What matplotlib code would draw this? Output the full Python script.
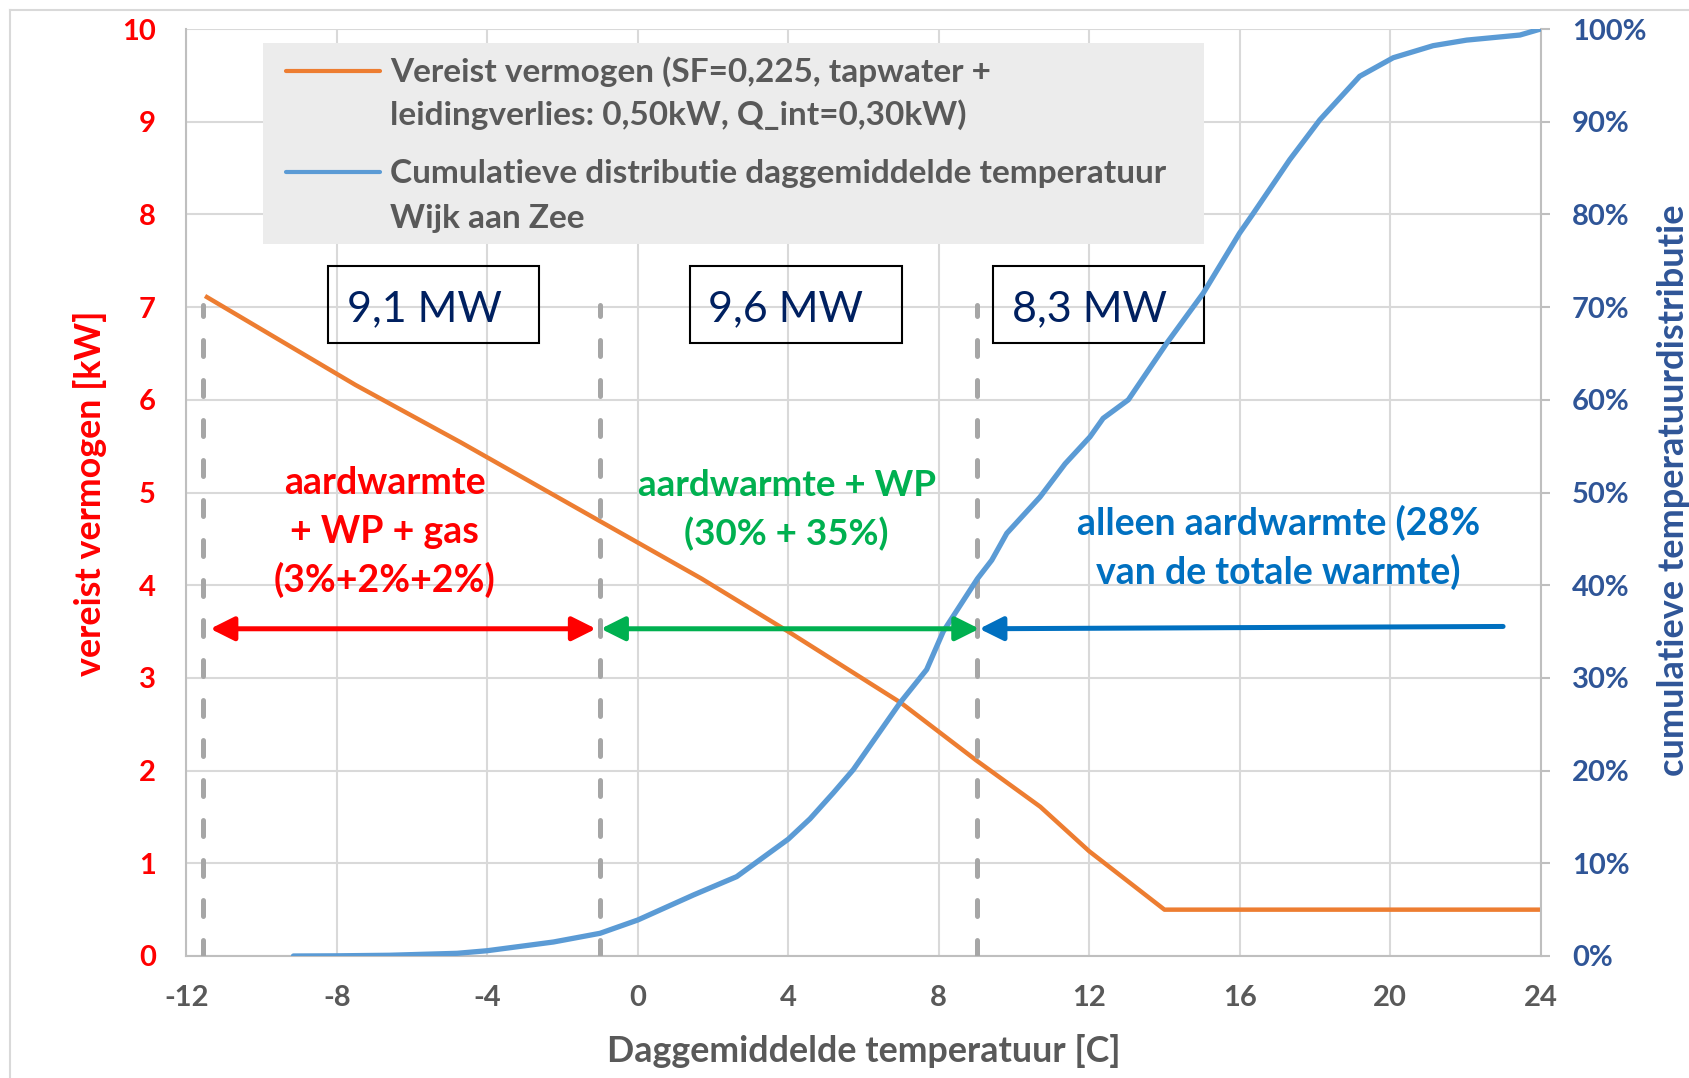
import matplotlib.pyplot as plt
from matplotlib.patches import Rectangle
from matplotlib.lines import Line2D

plt.rcParams['font.family'] = ['Lato', 'DejaVu Sans']
plt.rcParams['font.weight'] = 'bold'
plt.rcParams['lines.scale_dashes'] = False

# Required power (kW) versus daily mean temperature
temp_power = [-11.5, -7.5, -4.7, -1.0, 1.7, 4.0, 7.0, 9.0, 10.7, 12.0, 14.0, 24.0]
power_kw = [7.12, 6.16, 5.54, 4.69, 4.07, 3.50, 2.73, 2.11, 1.61, 1.13, 0.50, 0.50]

# Cumulative distribution of daily mean temperature (Wijk aan Zee)
temp_cdf = [-9.15, -8.0, -6.6, -4.8, -4.0, -2.24, -1.0, 0.0, 1.48, 2.63, 4.0, 4.58,
            5.2, 5.73, 6.97, 7.68, 8.12, 9.03, 9.41, 9.81, 10.69, 11.36, 12.02, 12.37,
            13.04, 14.06, 15.03, 16.0, 16.36, 17.33, 18.13, 19.19, 20.08, 21.14, 22.03,
            23.45, 24.0]
cdf_pct = [0.0, 0.02, 0.08, 0.29, 0.57, 1.51, 2.45, 3.88, 6.58, 8.56, 12.6, 14.8,
           17.6, 20.1, 27.3, 30.9, 35.0, 40.7, 42.7, 45.6, 49.5, 53.1, 56.0, 58.0,
           60.0, 66.1, 71.5, 78.0, 80.1, 85.9, 90.2, 94.9, 96.9, 98.2, 98.8,
           99.35, 100.0]

x_ticks = list(range(-12, 25, 4))
y_ticks = list(range(0, 11))
pct_ticks = list(range(0, 101, 10))

split_temps = [-11.55, -1.0, 9.03]
box_labels = ['9,1 MW', '9,6 MW', '8,3 MW']
box_ranges = [(-8.24, -2.61), (1.38, 7.03), (9.43, 15.05)]
box_text_x = [-5.68, 3.94, 12.0]

ORANGE = '#ED7D31'
BLUE_LINE = '#5B9BD5'
RED = '#FF0000'
GREEN = '#00B050'
BLUE = '#0070C0'
NAVY = '#002060'
AXBLUE = '#2F5597'
GRAY_TXT = '#595959'
GRID = '#D9D9D9'
SPINE = '#BFBFBF'

W, H = 1690, 1078
fig = plt.figure(figsize=(W / 100, H / 100), dpi=100)


def fx(x):
    return x / W


def fy(y):
    return 1 - y / H


# outer chart border
fig.add_artist(Line2D([fx(10), fx(1690)], [fy(10), fy(10)], color=GRID, lw=1.5))
fig.add_artist(Line2D([fx(10), fx(10)], [fy(10), fy(1078)], color=GRID, lw=1.5))

ax = fig.add_axes([fx(186.2), fy(956), fx(1540.7) - fx(186.2), fy(29) - fy(956)])
ax2 = ax.twinx()

ax.plot(temp_power, power_kw, color=ORANGE, lw=3.2, solid_capstyle='butt', zorder=3)
ax2.plot(temp_cdf, cdf_pct, color=BLUE_LINE, lw=3.8, solid_capstyle='round', zorder=3)

ax.set_xlim(-12, 24)
ax.set_ylim(0, 10)
ax2.set_ylim(0, 100)
ax.set_xticks(x_ticks)
ax.set_xticklabels([str(t) for t in x_ticks])
ax.set_yticks(y_ticks)
ax2.set_yticks(pct_ticks)
ax2.set_yticklabels([f'{p}%' for p in pct_ticks])

ax.grid(True, color=GRID, lw=1.5)
ax.set_axisbelow(True)
for s in ['top', 'right']:
    ax.spines[s].set_visible(False)
for s in ['left', 'bottom']:
    ax.spines[s].set_color(SPINE)
    ax.spines[s].set_linewidth(1.5)
for s in ['top', 'left', 'bottom']:
    ax2.spines[s].set_visible(False)
ax2.spines['right'].set_color(SPINE)
ax2.spines['right'].set_linewidth(1.5)

ax.tick_params(axis='x', length=0, pad=21, labelsize=21, labelcolor=GRAY_TXT)
ax.tick_params(axis='y', length=0, pad=22, labelsize=21, labelcolor=RED)
ax2.tick_params(axis='y', length=6.5, width=1.5, color=SPINE, pad=16,
                labelsize=21, labelcolor=AXBLUE)

# vertical dashed split lines
ax.vlines(split_temps, 0, 7.02, colors='#A6A6A6', lw=3.6,
          linestyles=[(0, (11.5, 17.3))], capstyle='round', zorder=4)

# power boxes
for (x0, x1), lbl, tx in zip(box_ranges, box_labels, box_text_x):
    ax.add_patch(Rectangle((x0, 6.61), x1 - x0, 0.83, fill=False,
                           edgecolor='black', lw=1.5, zorder=5))
    ax.text(tx, 6.853, lbl, ha='center', va='baseline', fontsize=31,
            fontweight='normal', color=NAVY, zorder=6)

# arrows
arrow_kw = dict(mutation_scale=20, shrinkA=0, shrinkB=0, lw=3.6)
ax2.annotate('', xy=(-1.11, 35.3), xytext=(-11.36, 35.3),
             arrowprops=dict(arrowstyle='<|-|>,head_length=0.72,head_width=0.36',
                             color=RED, **arrow_kw), zorder=7)
ax2.annotate('', xy=(9.08, 35.3), xytext=(-0.98, 35.3),
             arrowprops=dict(arrowstyle='<|-|>,head_length=0.72,head_width=0.36',
                             color=GREEN, **arrow_kw), zorder=7)
ax2.annotate('', xy=(9.08, 35.3), xytext=(23.0, 35.55),
             arrowprops=dict(arrowstyle='-|>,head_length=0.72,head_width=0.36',
                             color=BLUE, **arrow_kw), zorder=7)

# region annotations
for txt, y in zip(['aardwarmte', '+ WP + gas', '(3%+2%+2%)'], [4.984, 4.455, 3.927]):
    ax.text(-6.72, y, txt, ha='center', va='baseline', fontsize=27, color=RED, zorder=6)
for txt, y in zip(['aardwarmte + WP', '(30% + 35%)'], [4.957, 4.434]):
    ax.text(3.96, y, txt, ha='center', va='baseline', fontsize=26.5, color=GREEN, zorder=6)
for txt, y in zip(['alleen aardwarmte (28%', 'van de totale warmte)'], [4.542, 4.013]):
    ax.text(17.03, y, txt, ha='center', va='baseline', fontsize=27, color=BLUE, zorder=6)

# legend panel
fig.add_artist(Rectangle((fx(263), fy(244)), fx(1204) - fx(263), fy(43) - fy(244),
                         transform=fig.transFigure, facecolor='#ECECEC',
                         edgecolor='none', zorder=1))
fig.add_artist(Line2D([fx(286), fx(380)], [fy(70.7), fy(70.7)], color=ORANGE, lw=3,
                      solid_capstyle='round', zorder=2))
fig.add_artist(Line2D([fx(286), fx(380)], [fy(171.7), fy(171.7)], color=BLUE_LINE, lw=3,
                      solid_capstyle='round', zorder=2))
legend_lines = ['Vereist vermogen (SF=0,225, tapwater +',
                'leidingverlies: 0,50kW, Q_int=0,30kW)',
                'Cumulatieve distributie daggemiddelde temperatuur',
                'Wijk aan Zee']
for txt, yb in zip(legend_lines, [82, 125, 183, 228]):
    fig.text(fx(390), fy(yb), txt, ha='left', va='baseline', fontsize=24.0,
             color=GRAY_TXT, zorder=3)

# axis titles
fig.text(fx(863.5), fy(1061.7), 'Daggemiddelde temperatuur [C]', ha='center',
         va='baseline', fontsize=25.8, color=GRAY_TXT)
fig.text(fx(101), fy(493), 'vereist vermogen [kW]', ha='center', va='baseline',
         rotation=90, rotation_mode='anchor', fontsize=25.8, color=RED)
fig.text(fx(1684), fy(490), 'cumulatieve temperatuurdistributie', ha='center',
         va='baseline', rotation=90, rotation_mode='anchor', fontsize=26, color=AXBLUE)

fig.savefig('out.png', dpi=100)
